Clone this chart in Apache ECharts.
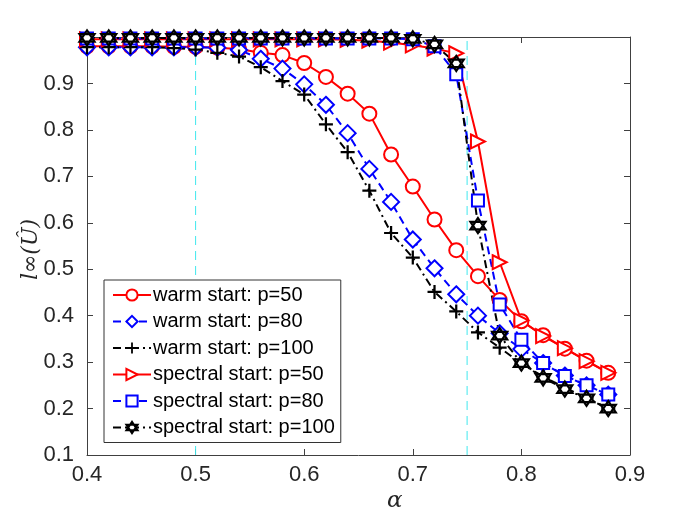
<!DOCTYPE html>
<html><head><meta charset="utf-8">
<script src="https://cdn.jsdelivr.net/npm/echarts@6/dist/echarts.min.js"></script>
<style>html,body{margin:0;padding:0;background:#fff}#c{width:698px;height:523px}</style>
</head><body><div id="c"></div>
<script>
const alpha = [0.40,0.42,0.44,0.46,0.48,0.50,0.52,0.54,0.56,0.58,0.60,0.62,0.64,0.66,0.68,0.70,0.72,0.74,0.76,0.78,0.80,0.82,0.84,0.86,0.88];
const warm50 = [0.980,0.980,0.980,0.980,0.979,0.979,0.977,0.974,0.966,0.961,0.944,0.914,0.878,0.835,0.747,0.678,0.607,0.541,0.485,0.434,0.388,0.358,0.329,0.303,0.277];
const warm80 = [0.978,0.978,0.978,0.978,0.978,0.978,0.977,0.972,0.953,0.932,0.898,0.854,0.793,0.716,0.645,0.564,0.502,0.446,0.400,0.362,0.328,0.298,0.271,0.250,0.230];
const warm100 = [0.978,0.978,0.978,0.978,0.976,0.973,0.966,0.958,0.935,0.905,0.876,0.812,0.752,0.669,0.578,0.525,0.451,0.409,0.364,0.331,0.297,0.269,0.245,0.223,0.200];
const spec50 = [0.995,0.995,0.995,0.995,0.995,0.995,0.995,0.995,0.995,0.995,0.995,0.995,0.994,0.992,0.988,0.982,0.975,0.965,0.775,0.515,0.390,0.356,0.330,0.302,0.277];
const spec80 = [0.997,0.997,0.997,0.997,0.997,0.997,0.997,0.997,0.997,0.997,0.997,0.997,0.997,0.997,0.997,0.995,0.980,0.920,0.648,0.424,0.348,0.298,0.270,0.250,0.230];
const spec100 = [0.998,0.998,0.998,0.998,0.998,0.998,0.998,0.998,0.998,0.998,0.998,0.998,0.998,0.998,0.998,0.996,0.984,0.943,0.594,0.357,0.298,0.266,0.242,0.222,0.200];
const thresholds = [0.5, 0.75];
const yRange = [0.1, 1.0];
const names = ['warm start: p=50','warm start: p=80','warm start: p=100','spectral start: p=50','spectral start: p=80','spectral start: p=100'];

const chart = echarts.init(document.getElementById('c'), null, {renderer:'canvas'});
const pts = arr => alpha.map((a,i)=>[a,arr[i]]);
const axisCol = '#404040';
const plusPath = 'path://M4.2,0 H5.8 V4.2 H10 V5.8 H5.8 V10 H4.2 V5.8 H0 V4.2 H4.2 Z';
const rtriPath = 'path://M0,0 L10,5 L0,10 Z';
const hexPath = 'path://M5,0 L9.33,7.5 L0.67,7.5 Z M5,10 L0.67,2.5 L9.33,2.5 Z';

function mk(name, data, color, lineType, symbol, size, filled, extra){
  return Object.assign({
    name, type:'line', data: pts(data), xAxisIndex:0, yAxisIndex:0,
    symbol, symbolSize:size, showAllSymbol:true,
    lineStyle:{color, width:2, type: lineType},
    itemStyle:{color: filled ? color : '#fff', borderColor:color, borderWidth: filled ? 0 : 2},
    emphasis:{disabled:true}, animation:false, z:3
  }, extra||{});
}

const series = thresholds.map(t => ({
  name:'thr'+t, type:'line', data:[[t, yRange[0]],[t, yRange[1]]], xAxisIndex:0, yAxisIndex:0,
  silent:true, symbol:'none', emphasis:{disabled:true}, z:1,
  lineStyle:{color:'#40e8ee', width:1, type:[9,6]}
}));
series.push(
  mk(names[0], warm50, '#ff0000', 'solid', 'circle', 14, false),
  mk(names[1], warm80, '#0000ff', [8,5], 'diamond', 16, false),
  mk(names[2], warm100, '#000000', [8,4,2,4], plusPath, 14, true),
  mk(names[3], spec50, '#ff0000', 'solid', rtriPath, 14, false),
  mk(names[4], spec80, '#0000ff', [8,5], 'rect', 12, false),
  mk(names[5], spec100, '#000000', [8,4,2,4], hexPath, 15, false,
     {itemStyle:{color:'#fff', borderColor:'#000', borderWidth:2.2}})
);

const axCommon = {
  type:'value', min:0.4, max:0.9, interval:0.1,
  axisLine:{show:true, onZero:false, lineStyle:{color:axisCol, width:1}},
  axisTick:{show:true, inside:true, length:6, lineStyle:{color:axisCol}},
  splitLine:{show:false}
};
const ayCommon = {
  type:'value', min:yRange[0], max:yRange[1], interval:0.1,
  axisLine:{show:true, onZero:false, lineStyle:{color:axisCol, width:1}},
  axisTick:{show:true, inside:true, length:6, lineStyle:{color:axisCol}},
  splitLine:{show:false}
};

chart.setOption({
  backgroundColor:'#fff',
  animation:false,
  grid:{left:87, top:37, width:543, height:418},
  xAxis:[
    Object.assign({}, axCommon, {position:'bottom',
      axisLabel:{show:true, fontSize:22, color:'#262626', margin:9, fontFamily:'Liberation Sans, Arial, sans-serif',
        formatter:v=>v.toFixed(1)}}),
    Object.assign({}, axCommon, {position:'top', axisLabel:{show:false}})
  ],
  yAxis:[
    Object.assign({}, ayCommon, {position:'left',
      axisLabel:{show:true, fontSize:22, color:'#262626', margin:13, fontFamily:'Liberation Sans, Arial, sans-serif',
        formatter:v=> (Math.abs(v-1)<1e-6 ? '' : v.toFixed(1))}}),
    Object.assign({}, ayCommon, {position:'right', axisLabel:{show:false}})
  ],
  legend:{
    show:true, orient:'vertical', left:104, top:280,
    data:names,
    backgroundColor:'#fff', borderColor:'#333', borderWidth:1,
    padding:[5,6,5,8], itemGap:6.5, itemWidth:38, itemHeight:14,
    textStyle:{fontSize:20, color:'#000', fontFamily:'Liberation Sans, Arial, sans-serif', lineHeight:20, padding:[0,0,0,-3]},
    selectedMode:false
  },
  graphic:[
    {type:'text', left:387, top:490, style:{text:'α', font:'italic 23px "DejaVu Serif", serif', fill:'#262626'}},
    {type:'text', x:20, y:280, rotation:Math.PI/2, style:{text:'l∞(Û)', font:'italic 22px "DejaVu Serif", serif', fill:'#262626'}}
  ],
  series
});
</script></body></html>
